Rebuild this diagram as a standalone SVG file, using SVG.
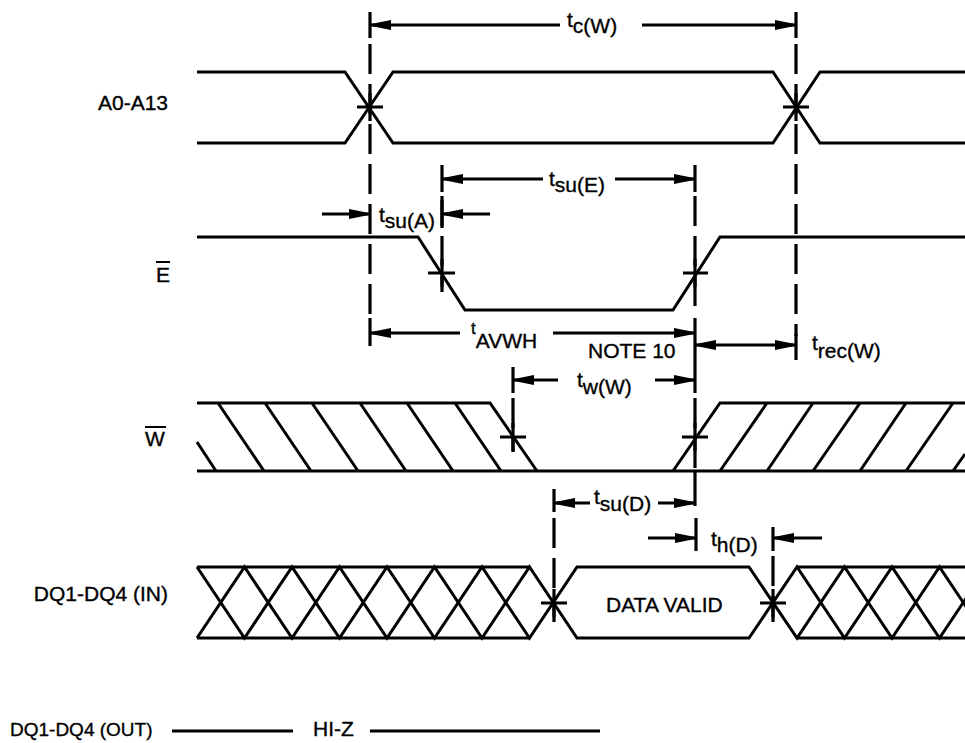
<svg xmlns="http://www.w3.org/2000/svg" width="965" height="743" viewBox="0 0 965 743">
<style>
.w{fill:none;stroke:#000;stroke-width:3;stroke-linejoin:miter}
.d{fill:none;stroke:#000;stroke-width:3.2;stroke-dasharray:30 10}
.s{fill:none;stroke:#000;stroke-width:3.2}
.a{fill:none;stroke:#000;stroke-width:3;marker-end:url(#ah)}
.x{fill:none;stroke:#000;stroke-width:3.2}
text{font-family:"Liberation Sans",Arial,Helvetica,sans-serif;font-size:21px;fill:#000;stroke:#000;stroke-width:0.35}
.sm{font-size:19px}
.tt{font-size:17px}
.big{font-size:21px}
</style>
<defs>
<marker id="ah" viewBox="0 0 20 10" refX="20" refY="5" markerWidth="20" markerHeight="10" markerUnits="userSpaceOnUse" orient="auto">
<path d="M0,0 L20,4 L20,6 L0,10 z" fill="#000"/>
</marker>
</defs>
<rect width="965" height="743" fill="#fff"/>

<g id="sig-A">
<text x="168" y="110" text-anchor="end">A0-A13</text>
<path class="w" d="M197,72 H345 L393,143 H773 L820,72 H965"/>
<path class="w" d="M197,143 H345 L393,72 H773 L820,143 H965"/>
</g>

<g id="sig-E">
<text x="156" y="282">E</text>
<line x1="156" y1="262" x2="170" y2="262" stroke="#000" stroke-width="2"/>
<path class="w" d="M197,237 H418 L465,310 H673 L720,237 H965"/>
</g>

<g id="sig-W">
<text x="145" y="446">W</text>
<line x1="145" y1="427" x2="166" y2="427" stroke="#000" stroke-width="2"/>
<path class="w" d="M197,403 H490 L537,471"/>
<path class="w" d="M197,471 H965"/>
<path class="w" d="M673,471 L720,403 H965"/>
<path class="w" d="M197,442 L216,471 M218,403 L264,471 M265,403 L311,471 M312,403 L358,471 M360,403 L406,471 M407,403 L453,471 M455,403 L501,471"/>
<path class="w" d="M720,471 L767,403 M767,471 L813,403 M813,471 L860,403 M860,471 L906,403 M906,471 L953,403 M953,471 L965,454"/>
</g>

<g id="sig-DQin">
<text x="168" y="601" text-anchor="end">DQ1-DQ4 (IN)</text>
<path class="w" d="M197,567 H529.5 M197,638 H529.5"/>
<path class="w" d="M197,567 L244.5,638 L292,567 L339.5,638 L387,567 L434.5,638 L482,567 L529.5,638 L577,567 H749 L797,638 L844.5,567 L892,638 L939.5,567 L987,638"/>
<path class="w" d="M197,638 L244.5,567 L292,638 L339.5,567 L387,638 L434.5,567 L482,638 L529.5,567 L577,638 H749 L797,567 L844.5,638 L892,567 L939.5,638 L987,567"/>
<path class="w" d="M797,567 H965 M797,638 H965"/>
<text x="606" y="612">DATA VALID</text>
</g>

<g id="sig-DQout">
<text x="10" y="736" class="sm">DQ1-DQ4 (OUT)</text>
<path class="w" d="M172,731 H293 M370,731 H600"/>
<text x="313" y="736">HI-Z</text>
</g>

<g id="connectors">
<line class="s" x1="370" y1="12" x2="370" y2="38"/>
<line class="d" x1="370" y1="44" x2="370" y2="318"/>
<line class="s" x1="370" y1="318" x2="370" y2="346"/>
<line class="s" x1="796" y1="12" x2="796" y2="38"/>
<line class="d" x1="796" y1="44" x2="796" y2="336"/>
<line class="s" x1="796" y1="334" x2="796" y2="360"/>
<line class="s" x1="442" y1="165" x2="442" y2="192"/>
<line class="d" x1="442" y1="196" x2="442" y2="292"/>
<line class="s" x1="442" y1="200" x2="442" y2="228"/>
<line class="s" x1="695" y1="165" x2="695" y2="192"/>
<line class="d" x1="695" y1="196" x2="695" y2="316"/>
<line class="s" x1="695" y1="318" x2="695" y2="393"/>
<line class="d" x1="695" y1="398" x2="695" y2="471"/>
<line class="s" x1="695" y1="471" x2="695" y2="506"/>
<line class="s" x1="696" y1="518" x2="696" y2="551"/>
<line class="s" x1="513" y1="367" x2="513" y2="393"/>
<line class="d" x1="513" y1="398" x2="513" y2="452"/>
<line class="s" x1="554" y1="489" x2="554" y2="512"/>
<line class="d" x1="554" y1="518" x2="554" y2="622"/>
<line class="s" x1="773" y1="527" x2="773" y2="551"/>
<line class="d" x1="773" y1="556" x2="773" y2="622"/>

<path class="x" d="M357,107 H383 M370,93 V121"/>
<path class="x" d="M783,107 H809 M796,93 V121"/>
<path class="x" d="M428,273 H455 M442,259 V287"/>
<path class="x" d="M683,273 H708 M695,259 V287"/>
<path class="x" d="M500,437 H526 M513,423 V451"/>
<path class="x" d="M682,437 H708 M695,423 V451"/>
<path class="x" d="M541,603 H567 M554,589 V617"/>
<path class="x" d="M760,603 H786 M773,589 V617"/>

<line class="a" x1="560" y1="25" x2="371" y2="25"/>
<line class="a" x1="642" y1="25" x2="795" y2="25"/>
<line class="a" x1="543" y1="179" x2="443" y2="179"/>
<line class="a" x1="615" y1="179" x2="694" y2="179"/>
<line class="a" x1="322" y1="214" x2="369" y2="214"/>
<line class="a" x1="490" y1="214" x2="443" y2="214"/>
<line class="a" x1="460" y1="333" x2="371" y2="333"/>
<line class="a" x1="553" y1="333" x2="694" y2="333"/>
<line class="a" x1="746" y1="345" x2="696" y2="345"/>
<line class="a" x1="746" y1="345" x2="795" y2="345"/>
<line class="a" x1="558" y1="380" x2="514" y2="380"/>
<line class="a" x1="655" y1="380" x2="694" y2="380"/>
<line class="a" x1="590" y1="503" x2="555" y2="503"/>
<line class="a" x1="658" y1="503" x2="694" y2="503"/>
<line class="a" x1="648" y1="538" x2="695" y2="538"/>
<line class="a" x1="822" y1="538" x2="774" y2="538"/>
</g>

<g id="labels">
<text x="567" y="27">t<tspan dy="6">c(W)</tspan></text>
<text x="549" y="186">t<tspan dy="6">su(E)</tspan></text>
<text x="379" y="222">t<tspan dy="6">su(A)</tspan></text>
<text x="471" y="334" class="tt">t<tspan dy="14" class="big">AVWH</tspan></text>
<text x="588" y="358">NOTE 10</text>
<text x="812" y="350">t<tspan dy="8">rec(W)</tspan></text>
<text x="577" y="387">t<tspan dy="7">w(W)</tspan></text>
<text x="594" y="504">t<tspan dy="7">su(D)</tspan></text>
<text x="711" y="546">t<tspan dy="6">h(D)</tspan></text>
</g>
</svg>
